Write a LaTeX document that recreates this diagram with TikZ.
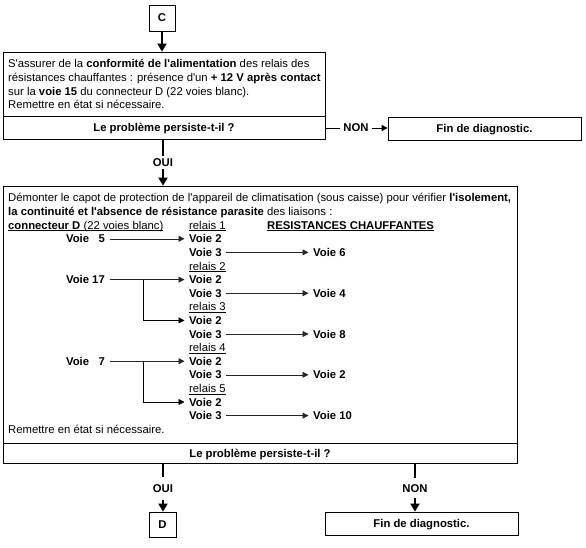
\documentclass[tikz,border=0pt]{standalone}
\usepackage{fontspec}
\setmainfont{Liberation Sans}
\usetikzlibrary{arrows.meta}
\newcommand\fs{\fontsize{11.3pt}{13.6pt}\selectfont}
\newcommand\q{\textquotesingle}
\newcommand\ul[1]{\underline{\raisebox{0pt}[\height][0pt]{#1}}}
\begin{document}
\begin{tikzpicture}[x=1pt,y=-1pt,
  every node/.style={inner sep=0pt,font=\fs},
  box/.style={draw,line width=0.8pt,text height=8pt,text depth=0pt,align=center},
  bbox/.style={box,font=\fs\bfseries},
  txt/.style={anchor=base west},
  lab/.style={font=\fs\bfseries,text height=8pt,text depth=0pt,inner xsep=3.5pt},
  vl/.style={font=\fs\bfseries,text height=8pt,text depth=0pt,inner xsep=4.5pt,anchor=base west},
  vr/.style={vl,anchor=base east},
  thk/.style={line width=1.8pt},
  thkarr/.style={line width=1.8pt,-{Triangle[width=9pt,length=8pt]}},
  sarr/.style={line width=0.6pt,black!85,-{Triangle[width=6pt,length=6pt]}},
  nonarr/.style={line width=0.9pt,-{Triangle[width=6pt,length=6pt]}}
]
\useasboundingbox (0,0) rectangle (586,548);

% top part
\node[bbox,minimum width=26pt,minimum height=26pt] (C) at (162,18) {C};
\node[box,minimum width=322pt,minimum height=64pt] (b1) at (164,84) {};
\node[bbox,minimum width=322pt,minimum height=23pt] (q1) at (164,127.5) {Le problème persiste-t-il ?};
\node[bbox,minimum width=193pt,minimum height=23pt] (fin1) at (484.5,128.5) {Fin de diagnostic.};
\node[txt] (a1) at (8,68) {S\q assurer de la \textbf{conformité de l\q alimentation} des relais des};
\node[txt] (a2) at (8,81.6) {résistances chauffantes : présence d\q un \textbf{+ 12 V après contact}};
\node[txt] (a3) at (8,95.2) {sur la \textbf{voie 15} du connecteur D (22 voies blanc).};
\node[txt] (a4) at (8,108.8) {Remettre en état si nécessaire.};

\draw[thkarr] (C.south) -- (C.south |- b1.north);

\node[lab] (non1) at (356,128) {NON};
\draw[line width=0.9pt] (q1.east |- non1.west) -- (non1.west);
\draw[nonarr] (non1.east) -- (non1.east -| fin1.west);

\node[lab,inner ysep=2.5pt] (oui1) at (163,162.5) {OUI};

% second box
\node[box,minimum width=514pt,minimum height=257pt] (b2) at (260,314.5) {};
\node[bbox,minimum width=514pt,minimum height=20pt] (q2) at (260,453) {Le problème persiste-t-il ?};

\draw[thk] (oui1.north |- q1.south) -- (oui1.north);
\draw[thkarr] (oui1.south) -- (oui1.south |- b2.north);

\node[txt] (t0) at (8,202) {Démonter le capot de protection de l\q appareil de climatisation (sous caisse) pour vérifier \textbf{l\q isolement,}};
\node[txt] (t1) at (8,215.6) {\textbf{la continuité et l\q absence de résistance parasite} des liaisons :};
\node[txt] (t2) at (8,229.2) {\ul{\textbf{connecteur D} (22 voies blanc)}};
\node[txt] (rl1) at (189,229.2) {\ul{relais 1}};
\node[txt] (rc) at (267,229.2) {\ul{\textbf{RESISTANCES CHAUFFANTES}}};

% rows
\node[vr] (v5) at (109.5,242.8) {Voie\ \ \ 5};
\node[vl] (r1v2) at (184.5,242.8) {Voie 2};
\node[vl] (r1v3) at (184.5,256.4) {Voie 3};
\node[vl] (rv6) at (308.5,256.4) {Voie 6};
\node[txt] (rl2) at (189,270) {\ul{relais 2}};
\node[vr] (v17) at (109.5,283.6) {Voie 17};
\node[vl] (r2v2) at (184.5,283.6) {Voie 2};
\node[vl] (r2v3) at (184.5,297.2) {Voie 3};
\node[vl] (rv4) at (308.5,297.2) {Voie 4};
\node[txt] (rl3) at (189,310.8) {\ul{relais 3}};
\node[vl] (r3v2) at (184.5,324.4) {Voie 2};
\node[vl] (r3v3) at (184.5,338) {Voie 3};
\node[vl] (rv8) at (308.5,338) {Voie 8};
\node[txt] (rl4) at (189,351.6) {\ul{relais 4}};
\node[vr] (v7) at (109.5,365.2) {Voie\ \ \ 7};
\node[vl] (r4v2) at (184.5,365.2) {Voie 2};
\node[vl] (r4v3) at (184.5,378.8) {Voie 3};
\node[vl] (rv2) at (308.5,378.8) {Voie 2};
\node[txt] (rl5) at (189,392.4) {\ul{relais 5}};
\node[vl] (r5v2) at (184.5,406) {Voie 2};
\node[vl] (r5v3) at (184.5,419.6) {Voie 3};
\node[vl] (rv10) at (308.5,419.6) {Voie 10};
\node[txt] (t17) at (8,433.2) {Remettre en état si nécessaire.};

\coordinate (bx) at (143,0);
\draw[sarr] (v5.east) -- (r1v2.west);
\draw[sarr] (r1v3.east) -- (rv6.west);
\draw[sarr] (v17.east) -- (r2v2.west);
\draw[sarr] (r2v3.east) -- (rv4.west);
\draw[sarr,black] (v17.east -| bx) |- (r3v2.west);
\draw[sarr] (r3v3.east) -- (rv8.west);
\draw[sarr] (v7.east) -- (r4v2.west);
\draw[sarr] (r4v3.east) -- (rv2.west);
\draw[sarr,black] (v7.east -| bx) |- (r5v2.west);
\draw[sarr] (r5v3.east) -- (rv10.west);

% bottom
\node[lab,inner ysep=7.5pt] (oui2) at (163,488.5) {OUI};
\node[bbox,minimum width=27pt,minimum height=25pt] (D) at (162.5,524.5) {D};
\node[lab,inner ysep=5.5pt] (non2) at (415,488) {NON};
\node[bbox,minimum width=193pt,minimum height=23pt] (fin2) at (421.5,523.5) {Fin de diagnostic.};
\draw[thk] (oui2.north |- q2.south) -- (oui2.north);
\draw[thkarr] (oui2.south) -- (oui2.south |- D.north);
\draw[thk] (non2.north |- q2.south) -- (non2.north);
\draw[thkarr] (non2.south) -- (non2.south |- fin2.north);
\end{tikzpicture}
\end{document}
